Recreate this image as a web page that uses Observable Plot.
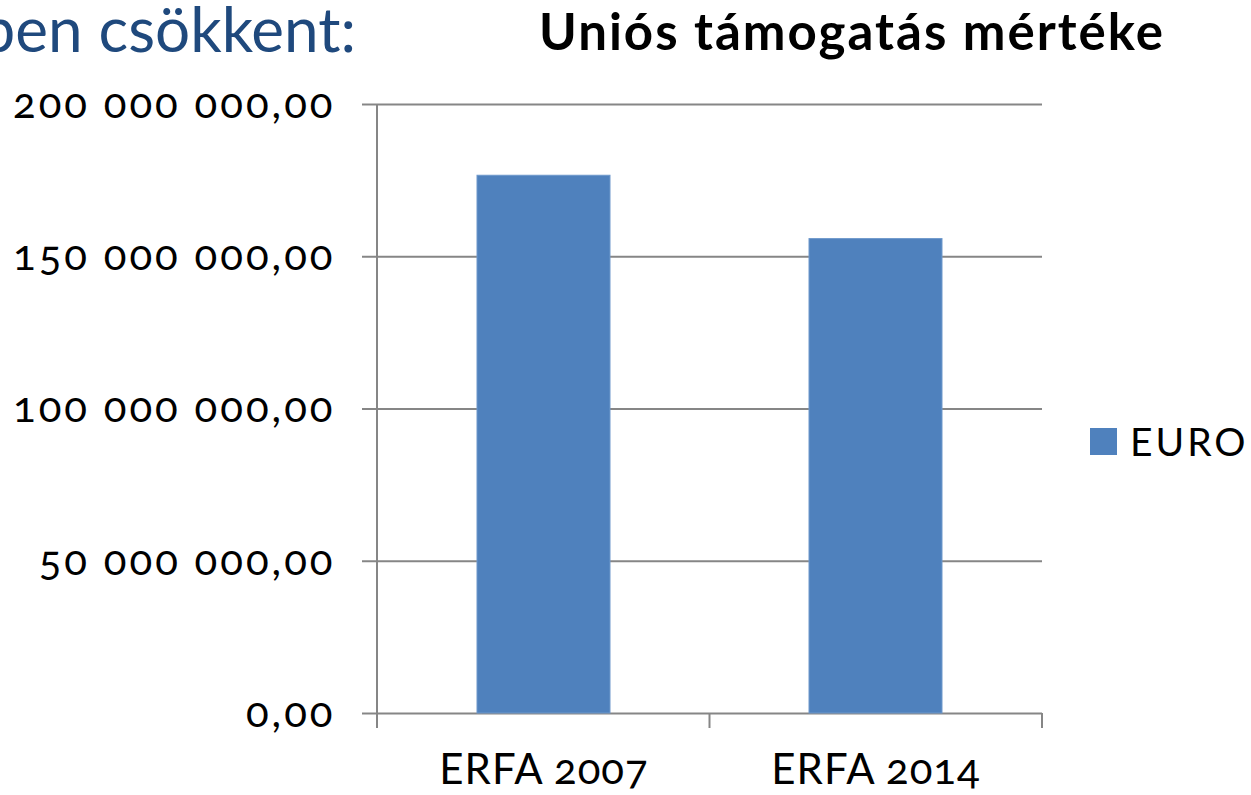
<!DOCTYPE html>
<html>
<head>
<meta charset="utf-8">
<script src="https://cdn.jsdelivr.net/npm/d3@7"></script>
<script src="https://cdn.jsdelivr.net/npm/@observablehq/plot@0.6"></script>
<style>
  html, body { margin: 0; padding: 0; background: #fff; overflow: hidden; }
  #wrap { position: relative; width: 1251px; height: 795px; font-family: Lato, "Open Sans", sans-serif; overflow: hidden; }
  #lead { position: absolute; right: calc(1251px - 356px); top: -9px; font-size: 62px; color: #1F497D; white-space: nowrap; }
  #title { position: absolute; left: 852px; transform: translateX(-50%); top: 0px; font-size: 51px; letter-spacing: 2px; font-weight: bold; color: #000; white-space: nowrap; }
  #legend { position: absolute; left: 1090px; top: 418px; display: flex; align-items: center; font-size: 39px; letter-spacing: 3px; color: #000; }
  #legend .sw { width: 27px; height: 27px; background: #4F81BD; margin-right: 13px; }
  #chart { position: absolute; left: 0; top: 0; }
  g[aria-label="y-axis tick label"] text { letter-spacing: 3px; font-variant-numeric: oldstyle-nums; }
  g[aria-label="x-axis tick label"] text { letter-spacing: 1px; font-variant-numeric: oldstyle-nums; }
</style>
</head>
<body>
<div id="wrap">
  <div id="chart"></div>
  <div id="lead">ben csökkent:</div>
  <div id="title">Uniós támogatás mértéke</div>
  <div id="legend"><div class="sw"></div><span>EURO</span></div>
</div>
<script>
const categories = ["ERFA 2007", "ERFA 2014"];
const euroValues = [176600000, 155800000];
const yTicks = [0, 50000000, 100000000, 150000000, 200000000];
const seriesName = "EURO";

const data = categories.map((c, i) => ({category: c, value: euroValues[i], series: seriesName}));
const huFormat = d3.formatLocale({decimal: ",", thousands: " ", grouping: [3], currency: ["", ""]}).format(",.2f");

const gridColor = "#868686";

function frameLines(index, scales, values, dimensions) {
  const {width, height, marginLeft, marginRight, marginBottom, marginTop} = dimensions;
  const g = d3.create("svg:g");
  const n = categories.length;
  const step = (width - marginLeft - marginRight) / n;
  const y0 = height - marginBottom;
  g.append("line").attr("x1", marginLeft).attr("x2", marginLeft)
    .attr("y1", marginTop).attr("y2", y0 + 15)
    .attr("stroke", gridColor).attr("stroke-width", 2);
  for (let i = 1; i <= n; i++) {
    const x = marginLeft + i * step;
    g.append("line").attr("x1", x).attr("x2", x)
      .attr("y1", y0).attr("y2", y0 + 15)
      .attr("stroke", gridColor).attr("stroke-width", 2);
  }
  return g.node();
}

const chart = Plot.plot({
  width: 1251,
  height: 795,
  marginLeft: 377,
  marginRight: 209,
  marginTop: 104,
  marginBottom: 82,
  style: {fontFamily: "Lato, 'Open Sans', sans-serif", background: "transparent"},
  x: {domain: categories, paddingInner: 0.6, paddingOuter: 0.3, label: null},
  y: {domain: [0, 200000000], label: null},
  marks: [
    Plot.ruleY(yTicks, {stroke: gridColor, strokeWidth: 2}),
    Plot.barY(data, {x: "category", y: "value", fill: "#4F81BD", stroke: "#6E98CB", strokeWidth: 1}),
    Plot.axisY({ticks: yTicks, tickFormat: huFormat, tickSize: 15, tickPadding: 27, stroke: gridColor, strokeWidth: 2, strokeOpacity: 1, fontSize: 42, fill: "#000", label: null}),
    Plot.axisX({tickSize: 0, tickPadding: 41, fontSize: 42, fill: "#000", label: null}),
    frameLines
  ]
});
document.getElementById("chart").appendChild(chart);
</script>
</body>
</html>
